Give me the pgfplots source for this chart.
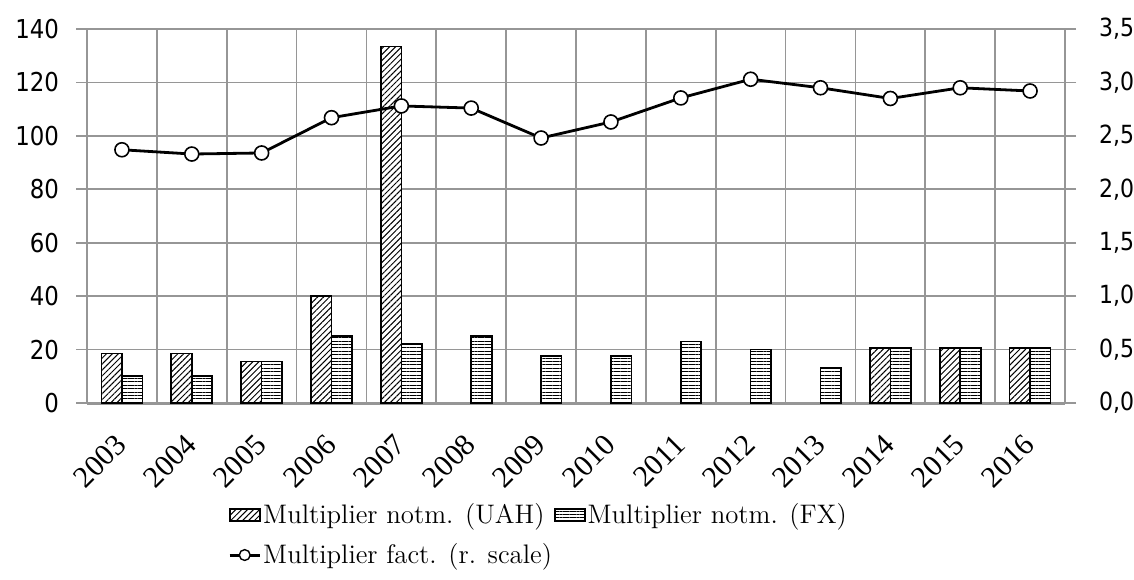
\documentclass[border=0pt]{standalone}
\usepackage{fontspec}
\usepackage{pgfplots}
\pgfplotsset{compat=1.18}
\usetikzlibrary{patterns.meta}
\newfontfamily\tickfont[FakeStretch=0.88]{DejaVu Sans}
\newfontfamily\yearfont{Liberation Serif}
\definecolor{gridgray}{RGB}{150,150,150}
\tikzset{
  uahstyle/.style={draw=black, line width=0.8pt, fill=white, postaction={pattern={Lines[angle=45,distance=2.1pt,line width=0.5pt]}}},
  fxstyle/.style={draw=black, line width=0.8pt, fill=white, postaction={pattern={Lines[angle=0,distance=1.7pt,line width=0.5pt]}}},
}
\pgfplotsset{
  barlegend/.style={legend image code/.code={\draw[##1] (0pt,-3pt) rectangle (15pt,3pt);}},
  linelegend/.style={legend image code/.code={\draw[black, line width=1.5pt] (0pt,0pt) -- (15pt,0pt); \draw[black, fill=white, line width=0.7pt] (7.5pt,0pt) circle (2.7pt);}},
}
\newcommand{\yr}[1]{\mbox{\yearfont\fontsize{15}{17}\selectfont #1}}
\begin{document}
\begin{tikzpicture}
\useasboundingbox (-43.5pt,-88pt) rectangle (523.5pt,201.5pt);
\begin{axis}[
  at={(0,0)}, anchor=south west,
  scale only axis, width=489pt, height=187pt,
  xmin=-0.5, xmax=13.5, ymin=0, ymax=140,
  axis x line*=bottom, axis y line*=left,
  x axis line style={-, draw=gridgray, line width=1.5pt},
  y axis line style={draw=none},
  xtick={0,...,13},
  xticklabels={\yr{2003},\yr{2004},\yr{2005},\yr{2006},\yr{2007},\yr{2008},\yr{2009},\yr{2010},\yr{2011},\yr{2012},\yr{2013},\yr{2014},\yr{2015},\yr{2016}},
  minor xtick={-0.5,0.5,...,13.5},
  xminorgrids, ymajorgrids,
  grid style={draw=gridgray, line width=0.9pt},
  minor grid style={draw=gridgray, line width=0.9pt},
  major x tick style={draw=none}, minor x tick style={draw=none},
  ytick={0,20,...,140},
  y tick style={draw=gridgray, line width=0.9pt},
  tick align=outside, major tick length=5.5pt,
  yticklabel style={font=\tickfont\fontsize{13}{15}\selectfont, xshift=-5pt, /pgf/number format/assume math mode=true},
  xticklabel style={xshift=-4pt, yshift=-9pt, rotate=45, anchor=north east, inner sep=0pt},
  ybar=0pt, bar width=10.25pt,
]
\addplot[uahstyle] coordinates {(0,18.5) (1,18.5) (2,15.5) (3,40) (4,133.5) (11,20.5) (12,20.5) (13,20.5)};
\addplot[fxstyle] coordinates {(0,10) (1,10) (2,15.5) (3,25) (4,22) (5,25) (6,17.5) (7,17.5) (8,23) (9,20) (10,13) (11,20.5) (12,20.5) (13,20.5)};
\end{axis}
\begin{axis}[
  at={(0,0)}, anchor=south west,
  scale only axis, width=489pt, height=187pt,
  xmin=-0.5, xmax=13.5, ymin=0, ymax=3.5,
  axis x line=none, axis y line*=right,
  y axis line style={draw=none},
  ytick={0,0.5,...,3.5},
  y tick style={draw=gridgray, line width=0.9pt},
  tick align=outside, major tick length=5.5pt,
  yticklabel style={font=\tickfont\fontsize{12.5}{15}\selectfont, xshift=8pt},
  /pgf/number format/.cd, assume math mode=true, use comma, fixed, fixed zerofill, precision=1,
  /pgfplots/.cd,
  legend columns=2,
  legend cell align=left,
  legend style={at={(0.144,-0.262)}, anchor=north west, draw=none, inner sep=0pt,
    font=\fontsize{13.4}{15}\selectfont, row sep=6.5pt,
    nodes={inner sep=1pt}},
]
\addlegendimage{uahstyle, barlegend}
\addlegendentry{Multiplier notm. (UAH)}
\addlegendimage{fxstyle, barlegend}
\addlegendentry{Multiplier notm. (FX)}
\addplot[black, line width=1.4pt, mark=*, mark size=3.5pt, mark options={fill=white, draw=black, line width=0.8pt}, linelegend]
  coordinates {(0,2.37) (1,2.33) (2,2.34) (3,2.67) (4,2.78) (5,2.76) (6,2.48) (7,2.63) (8,2.855) (9,3.03) (10,2.95) (11,2.85) (12,2.95) (13,2.92)};
\addlegendentry{Multiplier fact. (r. scale)}
\end{axis}
\end{tikzpicture}
\end{document}
